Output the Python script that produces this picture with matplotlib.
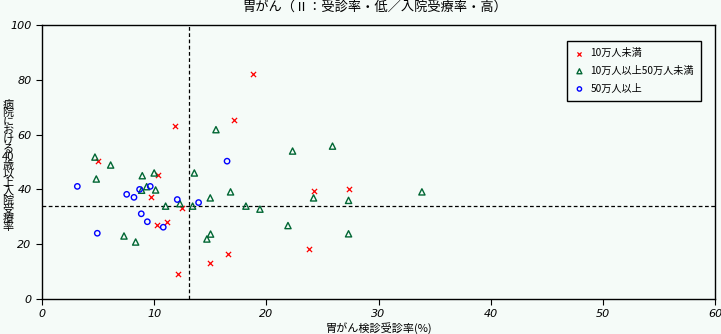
import matplotlib.pyplot as plt

plt.rcParams['font.family'] = ['Noto Sans CJK JP', 'DejaVu Sans']

# 10万人未満
small_x = [4.99, 11.83, 17.1, 18.8, 10.31, 9.71, 12.48, 10.25, 11.14, 12.15, 14.94, 16.58, 23.8, 24.21, 27.36]
small_y = [50.3, 63.1, 65.2, 82.0, 45.1, 37.1, 33.1, 27.1, 28.2, 9.0, 13.0, 16.3, 18.1, 39.3, 40.0]

# 10万人以上50万人未満
mid_x = [4.72, 6.12, 15.51, 22.34, 25.9, 4.84, 8.94, 10.0, 9.33, 8.88, 10.13, 11.02, 12.3, 13.58,
         13.43, 15.0, 16.81, 18.18, 19.43, 15.03, 14.7, 7.31, 8.35, 21.93, 24.21, 27.33, 27.33, 33.87]
mid_y = [51.8, 48.9, 61.8, 54.0, 55.8, 43.8, 45.0, 46.0, 41.0, 39.7, 39.8, 33.9, 34.8, 46.0,
         33.9, 36.9, 39.1, 33.9, 32.8, 23.7, 21.9, 23.0, 20.8, 26.8, 36.9, 36.0, 23.8, 39.1]

# 50万人以上
big_x = [16.5, 3.15, 4.93, 7.55, 8.2, 8.7, 9.65, 8.85, 9.39, 10.81, 12.06, 13.96]
big_y = [50.3, 41.1, 24.0, 38.2, 37.1, 40.0, 41.1, 31.1, 28.2, 26.2, 36.3, 35.2]

avg_x = 13.1
avg_y = 33.9

bg = '#F5FBF8'
fig = plt.figure(figsize=(7.21, 3.34), dpi=100, facecolor=bg)
ax = fig.add_axes([42 / 721, 35 / 334, (715 - 42) / 721, (299 - 25) / 334])
ax.set_facecolor(bg)

ax.scatter(small_x, small_y, marker='x', s=14, c='#FF0000', linewidths=0.9, label='10万人未満', zorder=3)
ax.scatter(mid_x, mid_y, marker='^', s=20, facecolors='none', edgecolors='#006633', linewidths=1.0,
           label='10万人以上50万人未満', zorder=3)
ax.scatter(big_x, big_y, marker='o', s=15, facecolors='none', edgecolors='#0000FF', linewidths=1.0,
           label='50万人以上', zorder=3)

ax.axvline(avg_x, color='black', linestyle=(0, (3, 2)), linewidth=0.9)
ax.axhline(avg_y, color='black', linestyle=(0, (3, 2)), linewidth=0.9)

ax.set_xlim(0, 60)
ax.set_ylim(0, 100)
ax.set_xticks([0, 10, 20, 30, 40, 50, 60])
ax.set_yticks([0, 20, 40, 60, 80, 100])
ax.tick_params(labelsize=8, length=4, width=0.8, direction='out')
for lab in ax.get_xticklabels() + ax.get_yticklabels():
    lab.set_fontstyle('italic')
    lab.set_family('DejaVu Sans')
for s in ax.spines.values():
    s.set_linewidth(1.0)

ax.set_xlabel('胃がん検診受診率(%)', fontsize=8, labelpad=2)
chars = ['病', '院', 'に', 'お', 'け', 'る', '40', '歳', '以', '上', '入', '院', '受', '療', '率']
fig.text(8 / 721, 1 - 166 / 334, '\n'.join(chars), fontsize=8, ha='center', va='center',
         linespacing=0.84)

fig.text(0.52, 1 - 8 / 334, '胃がん（Ⅱ：受診率・低／入院受療率・高）', fontsize=9.5,
         ha='center', va='center')

leg = ax.legend(loc='upper right', bbox_to_anchor=(0.987, 0.96), fontsize=7.3, frameon=True,
                fancybox=False, edgecolor='black', facecolor=bg, framealpha=1,
                handlelength=1.0, handletextpad=0.6, borderpad=0.7, labelspacing=0.75,
                markerscale=0.8)
leg.get_frame().set_linewidth(1.0)

fig.savefig('out.png', dpi=100, facecolor=bg)
